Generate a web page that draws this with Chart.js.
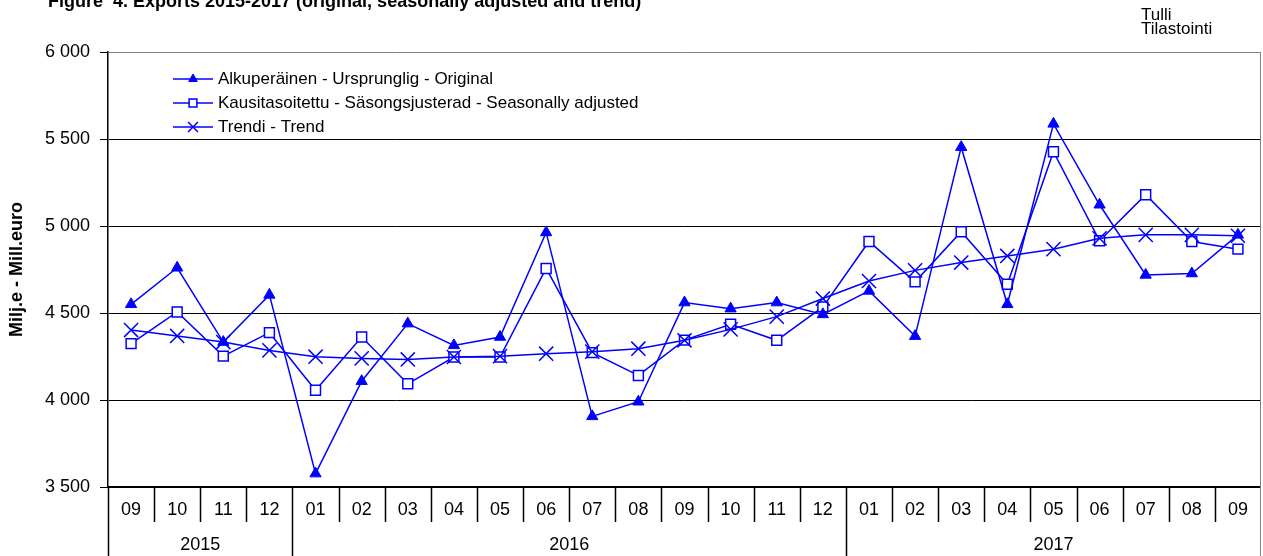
<!DOCTYPE html>
<html>
<head>
<meta charset="utf-8">
<script src="https://cdn.jsdelivr.net/npm/chart.js@4.4.1/dist/chart.umd.min.js"></script>
<style>
  html, body { margin: 0; padding: 0; background: #fff; overflow: hidden; }
  canvas { display: block; }
</style>
</head>
<body>
<canvas id="exportsCTX" width="1263" height="556"></canvas>
<script>
const months = ["09", "10", "11", "12", "01", "02", "03", "04", "05", "06", "07", "08",
  "09", "10", "11", "12", "01", "02", "03", "04", "05", "06", "07", "08", "09"];
const yearLabels = ["2015", "2016", "2017"];
const yearSpans = [4, 12, 9];
const yTickLabels = ["3 500", "4 000", "4 500", "5 000", "5 500", "6 000"];

const original = [4550, 4760, 4333, 4604, 3577, 4108, 4439, 4314, 4362, 4963, 3906, 3990,
  4560, 4525, 4560, 4492, 4627, 4367, 5453, 4550, 5587, 5122, 4719, 4727, 4949];
const seasonal = [4324, 4506, 4252, 4387, 4056, 4362, 4093, 4247, 4247, 4756, 4272, 4141,
  4344, 4435, 4343, 4535, 4911, 4679, 4967, 4665, 5427, 4915, 5180, 4911, 4867];
const trend = [4402, 4368, 4333, 4285, 4249, 4239, 4233, 4247, 4252, 4266, 4278, 4295,
  4343, 4406, 4479, 4583, 4684, 4745, 4790, 4828, 4867, 4929, 4949, 4949, 4944];

const seriesLabels = [
  "Alkuperäinen - Ursprunglig - Original",
  "Kausitasoitettu - Säsongsjusterad - Seasonally adjusted",
  "Trendi - Trend",
];

const blue = "#0000ff";
const fontFamily = "'Liberation Sans', Arial, sans-serif";
const wrapper = document.getElementById("exportsCTX");

// legend markers, same styles as the datasets but a bit smaller
const legendMarks = [
  { pointStyle: "triangle", radius: 5, borderWidth: 1, fill: blue },
  { pointStyle: "rect", radius: 5.5, borderWidth: 1.5, fill: "#fff" },
  { pointStyle: "crossRot", radius: 7, borderWidth: 1.5, fill: blue },
];

const frame = {
  id: "frame",
  afterDraw(chart) {
    const { ctx, chartArea: area, scales: { x } } = chart;
    const half = (x.getPixelForValue(1) - x.getPixelForValue(0)) / 2;
    const bottom = chart.height;
    ctx.save();

    // title + source
    ctx.fillStyle = "#000";
    ctx.textAlign = "left";
    ctx.textBaseline = "alphabetic";
    ctx.font = "bold 18px " + fontFamily;
    ctx.fillText("Figure  4. Exports 2015-2017 (original, seasonally adjusted and trend)", 48, 7);
    ctx.font = "17px " + fontFamily;
    ctx.fillText("Tulli", 1141, 20);
    ctx.fillText("Tilastointi", 1141, 34);

    // right border
    ctx.strokeStyle = "#808080";
    ctx.lineWidth = 1;
    ctx.beginPath();
    ctx.moveTo(area.right - 0.5, area.top);
    ctx.lineTo(area.right - 0.5, bottom);
    ctx.stroke();

    // x axis line and category dividers
    ctx.strokeStyle = "#000";
    ctx.lineWidth = 2;
    ctx.beginPath();
    ctx.moveTo(area.left, area.bottom);
    ctx.lineTo(area.right - 1, area.bottom);
    ctx.stroke();

    ctx.lineWidth = 1.5;
    ctx.beginPath();
    ctx.moveTo(area.left + 0.5, area.bottom);
    ctx.lineTo(area.left + 0.5, bottom);
    let yearEnds = [];
    let acc = 0;
    yearSpans.forEach((n) => { acc += n; yearEnds.push(acc); });
    for (let i = 1; i < months.length; i++) {
      const bx = Math.round(x.getPixelForValue(i) - half) + 0.5;
      ctx.moveTo(bx, area.bottom);
      ctx.lineTo(bx, yearEnds.includes(i) ? bottom : area.bottom + 35);
    }
    ctx.stroke();

    ctx.font = "18px " + fontFamily;
    ctx.textAlign = "center";
    ctx.textBaseline = "middle";
    months.forEach((m, i) => ctx.fillText(m, x.getPixelForValue(i), area.bottom + 23));

    let start = 0;
    yearLabels.forEach((yr, k) => {
      const end = start + yearSpans[k] - 1;
      const cx = (x.getPixelForValue(start) + x.getPixelForValue(end)) / 2;
      ctx.fillText(yr, cx, area.bottom + 58);
      start = end + 1;
    });

    // legend
    ctx.textAlign = "left";
    ctx.font = "17px " + fontFamily;
    seriesLabels.forEach((label, i) => {
      const ly = 79 + 24 * i;
      ctx.strokeStyle = blue;
      ctx.lineWidth = 1.5;
      ctx.beginPath();
      ctx.moveTo(173, ly);
      ctx.lineTo(213, ly);
      ctx.stroke();
      const mk = legendMarks[i];
      ctx.fillStyle = mk.fill;
      ctx.lineWidth = mk.borderWidth;
      Chart.helpers.drawPoint(ctx, { pointStyle: mk.pointStyle, radius: mk.radius, borderWidth: mk.borderWidth, rotation: 0 }, 193, ly);
      ctx.fillStyle = "#000";
      ctx.fillText(label, 218, ly);
    });
    ctx.restore();
  },
};

const exportsData = {
  labels: months,
  datasets: [
    {
      label: seriesLabels[0],
      data: original,
      order: 0,
      borderColor: blue,
      backgroundColor: blue,
      borderWidth: 1.5,
      pointStyle: "triangle",
      pointRadius: 6.5,
      pointBorderWidth: 1,
    },
    {
      label: seriesLabels[1],
      data: seasonal,
      order: 2,
      borderColor: blue,
      backgroundColor: "#fff",
      borderWidth: 1.5,
      pointStyle: "rect",
      pointRadius: 7,
      pointBorderWidth: 1.5,
    },
    {
      label: seriesLabels[2],
      data: trend,
      order: 1,
      borderColor: blue,
      backgroundColor: blue,
      borderWidth: 1.5,
      pointStyle: "crossRot",
      pointRadius: 10,
      pointBorderWidth: 1.5,
    },
  ],
};

const exportsOptions = {
  responsive: false,
  animation: false,
  layout: { autoPadding: false, padding: { left: 0, top: 52, right: 2, bottom: 69 } },
  plugins: { legend: { display: false }, tooltip: { enabled: false } },
  scales: {
    x: { type: "category", offset: true, display: false },
    y: {
      min: 3500,
      max: 6000,
      afterFit: (scale) => { scale.width = 108; },
      ticks: {
        stepSize: 500,
        padding: 10,
        color: "#000",
        font: { family: fontFamily, size: 18 },
        callback: (val, i) => yTickLabels[i],
      },
      grid: {
        color: (c) => (c.tick && c.tick.value === 6000 ? "#808080" : "#000"),
        tickColor: "#000",
        tickLength: 8,
        lineWidth: 1,
      },
      border: { color: "#000", width: 1.5 },
      title: {
        display: true,
        text: "Milj.e - Mill.euro",
        color: "#000",
        font: { family: fontFamily, size: 18, weight: "bold" },
        padding: { top: 6, bottom: 0 },
      },
    },
  },
};

const exportsChart = new Chart(wrapper, {
  type: "line",
  data: exportsData,
  options: exportsOptions,
  plugins: [frame],
});
</script>
</body>
</html>
